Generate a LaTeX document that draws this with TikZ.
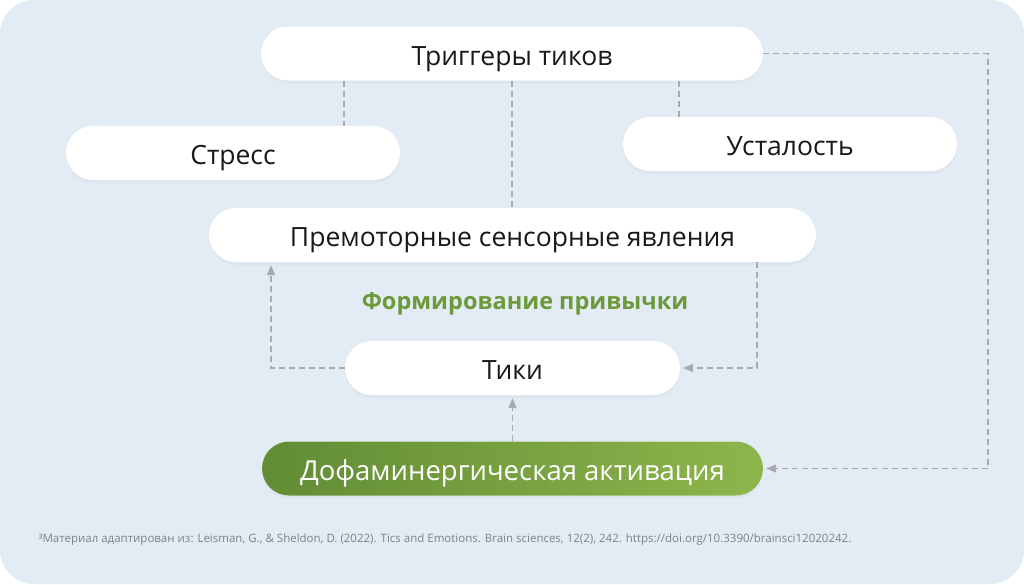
\documentclass[tikz,border=0pt]{standalone}
\usepackage{fontspec}
\setmainfont{Open Sans}
\usepackage{tikz}
\usetikzlibrary{shapes.geometric, arrows}
\usetikzlibrary{calc}
\usetikzlibrary{shadows}
\usepackage{xcolor}
\definecolor{panelbg}{HTML}{E3EBF5}
\definecolor{linegray}{HTML}{A9AAAF}
\definecolor{habitgreen}{HTML}{6C9A3A}
\definecolor{dopadark}{HTML}{628C35}
\definecolor{dopalight}{HTML}{8DB64C}
\definecolor{notegray}{HTML}{7C828C}
\tikzstyle{pill} = [fill=white,rounded corners=27pt,minimum height=54pt,inner sep=0pt,
  text height=24pt,text depth=1pt,
  font=\fontsize{26.5}{30}\selectfont,text=black!90,
  drop shadow={opacity=0.05,shadow xshift=0pt,shadow yshift=-3pt}]
\tikzstyle{conn} = [linegray,line width=1.3pt,dash pattern=on 6pt off 4pt]
\tikzstyle{arrow} = [conn,-triangle 45,shorten >=3pt]

\begin{document}
\begin{tikzpicture}[x=1pt,y=-1pt]
\useasboundingbox (0,0) rectangle (1024,584);
\fill[panelbg] (0,0) [rounded corners=34pt] rectangle (1024,584);
\node[pill,minimum width=502pt] (trig) at (512,53.5) {Триггеры тиков};
\node[pill,minimum width=334pt] (stress) at (233,153) {Стресс};
\node[pill,minimum width=334pt] (fatigue) at (790,144) {Усталость};
\node[pill,minimum width=607pt] (premotor) at (512.5,235) {Премоторные сенсорные явления};
\node[pill,minimum width=335pt] (tics) at (512.5,368) {Тики};
\node[pill,minimum width=501pt,left color=dopadark,right color=dopalight,text=white,font=\fontsize{27.5}{30}\selectfont] (dopa) at (512.5,468.5) {Дофаминергическая активация};
\node[text=habitgreen,font=\fontsize{23.5}{27}\selectfont\bfseries] (habit) at (525,303.5) {Формирование привычки};
\node[anchor=west,text=notegray,font=\fontsize{11.5}{13}\selectfont] (note) at (35,540) {³Материал адаптирован из: Leisman, G., \& Sheldon, D. (2022). Tics and Emotions. Brain sciences, 12(2), 242. https://doi.org/10.3390/brainsci12020242.};
% triggers
\draw[conn] (trig.south -| 344,0) -- (stress.north -| 344,0);
\draw[conn] (trig.south -| 512,0) -- (premotor.north -| 512,0);
\draw[conn] (trig.south -| 679,0) -- (fatigue.north -| 679,0);
\draw[arrow] (trig.east) -- (trig.east -| 988,0) |- (dopa.east);
% loop
\draw[arrow] (tics.west) -- (tics.west -| 271,0) -- (premotor.south -| 271,0);
\draw[arrow] (premotor.south -| 757,0) |- (tics.east);
\draw[arrow] (dopa.north) -- (tics.south);
\end{tikzpicture}
\end{document}
